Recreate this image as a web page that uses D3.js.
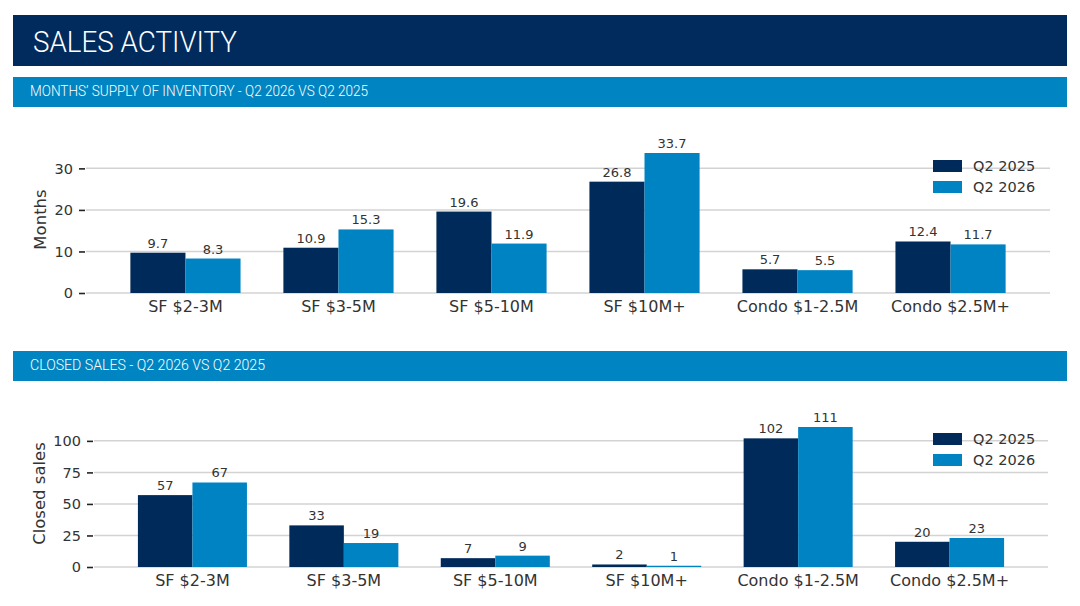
<!DOCTYPE html>
<html>
<head>
<meta charset="utf-8">
<script src="https://cdn.jsdelivr.net/npm/d3@7"></script>
<style>
  body { margin: 0; background: #fff; }
  svg { display: block; }
</style>
</head>
<body>
<script>

// data
var categories = ["SF $2-3M", "SF $3-5M", "SF $5-10M", "SF $10M+", "Condo $1-2.5M", "Condo $2.5M+"];
var seriesNames = ["Q2 2025", "Q2 2026"];

var monthsQ2_2025 = [9.7, 10.9, 19.6, 26.8, 5.7, 12.4];
var monthsQ2_2026 = [8.3, 15.3, 11.9, 33.7, 5.5, 11.7];
var monthsTicks = [0, 10, 20, 30];

var salesQ2_2025 = [57, 33, 7, 2, 102, 20];
var salesQ2_2026 = [67, 19, 9, 1, 111, 23];
var salesTicks = [0, 25, 50, 75, 100];

var navy = "#002a5a";
var blue = "#0083c3";
var colors = [navy, blue];

var svgWidth = 1080;
var svgHeight = 606;

var svg = d3.select("body")
            .append("svg")
            .attr("width", svgWidth)
            .attr("height", svgHeight);

// header bands
svg.append("rect")
   .attr("x", 13).attr("y", 15)
   .attr("width", 1054).attr("height", 51)
   .attr("fill", "#012b5d");

svg.append("text")
   .attr("x", 33).attr("y", 52)
   .attr("fill", "white")
   .style("font-family", "Roboto")
   .style("font-weight", 300)
   .style("font-size", "30px")
   .attr("textLength", 204)
   .attr("lengthAdjust", "spacingAndGlyphs")
   .text("SALES ACTIVITY");

function sectionBar(y, label, len) {
    svg.append("rect")
       .attr("x", 13).attr("y", y)
       .attr("width", 1054).attr("height", 30)
       .attr("fill", "#0085c2");
    svg.append("text")
       .attr("x", 30).attr("y", y + 19)
       .attr("fill", "white")
       .style("font-family", "Roboto")
       .style("font-weight", 300)
       .style("font-size", "15px")
       .attr("textLength", len)
       .attr("lengthAdjust", "spacingAndGlyphs")
       .text(label);
}

sectionBar(77, "MONTHS\u2019 SUPPLY OF INVENTORY - Q2 2026 VS Q2 2025", 338);
sectionBar(351, "CLOSED SALES - Q2 2026 VS Q2 2025", 235);

// grouped bar chart
function drawChart(opts) {
    var g = svg.append("g");
    var font = "DejaVu Sans";
    var textColor = "#333";

    var rows = categories.map(function(c, i) {
        return { cat: c, values: [opts.a[i], opts.b[i]] };
    });

    var yMax = d3.max(opts.a.concat(opts.b)) * 1.05;

    var xScale = d3.scaleBand()
                   .domain(categories)
                   .range([opts.left, opts.right])
                   .paddingInner(0.28)
                   .paddingOuter(0.29);

    var xSub = d3.scaleBand()
                 .domain([0, 1])
                 .range([0, xScale.bandwidth()]);

    var yScale = d3.scaleLinear()
                   .domain([0, yMax])
                   .range([opts.bottom, opts.top]);

    // gridlines + y axis
    var leftAxis = d3.axisLeft(yScale)
                     .tickValues(opts.ticks)
                     .tickSize(6)
                     .tickPadding(6);

    g.selectAll(".grid")
     .data(opts.ticks)
     .enter()
     .append("line")
     .attr("x1", opts.left)
     .attr("x2", opts.right)
     .attr("y1", d => yScale(d))
     .attr("y2", d => yScale(d))
     .attr("stroke", "#d3d3d3")
     .attr("stroke-width", 1.5);

    var yAxis = g.append("g")
                 .attr("transform", `translate(${opts.left - 1}, 0)`)
                 .call(leftAxis);
    yAxis.select(".domain").remove();
    yAxis.selectAll("line").attr("stroke", "#222").attr("stroke-width", 1.6);
    yAxis.selectAll("text")
         .attr("fill", textColor)
         .style("font-family", font)
         .style("font-size", "14.5px");

    // bars
    var groups = g.selectAll(".grp")
                  .data(rows)
                  .enter()
                  .append("g")
                  .attr("transform", d => `translate(${xScale(d.cat)}, 0)`);

    groups.selectAll("rect")
          .data(d => d.values)
          .enter()
          .append("rect")
          .attr("x", (d, i) => xSub(i))
          .attr("y", d => yScale(d))
          .attr("width", xSub.bandwidth())
          .attr("height", d => opts.bottom - yScale(d))
          .attr("fill", (d, i) => colors[i]);

    groups.selectAll("text")
          .data(d => d.values)
          .enter()
          .append("text")
          .attr("x", (d, i) => xSub(i) + xSub.bandwidth() / 2)
          .attr("y", d => yScale(d) - 5)
          .attr("text-anchor", "middle")
          .attr("fill", textColor)
          .style("font-family", font)
          .style("font-size", "13px")
          .text(d => opts.fmt(d));

    // x labels
    var bottomAxis = d3.axisBottom(xScale).tickSize(0).tickPadding(8);
    var xAxis = g.append("g")
                 .attr("transform", `translate(0, ${opts.bottom})`)
                 .call(bottomAxis);
    xAxis.select(".domain").remove();
    xAxis.selectAll("text")
         .attr("fill", textColor)
         .style("font-family", font)
         .style("font-size", "16px");

    // y label
    g.append("text")
     .attr("transform", `translate(${opts.labelX}, ${(opts.top + opts.bottom) / 2}) rotate(-90)`)
     .attr("text-anchor", "middle")
     .attr("dy", "0.35em")
     .attr("fill", textColor)
     .style("font-family", font)
     .style("font-size", "16.5px")
     .text(opts.yLabel);

    // legend
    var legend = g.selectAll(".leg")
                  .data(seriesNames)
                  .enter()
                  .append("g")
                  .attr("transform", (d, i) => `translate(933, ${opts.legendY + i * 21})`);
    legend.append("rect")
          .attr("x", 0).attr("y", -6)
          .attr("width", 29).attr("height", 12)
          .attr("fill", (d, i) => colors[i]);
    legend.append("text")
          .attr("x", 40).attr("y", 0)
          .attr("dy", "0.35em")
          .attr("fill", textColor)
          .style("font-family", font)
          .style("font-size", "14.5px")
          .text(d => d);
}

drawChart({
    a: monthsQ2_2025, b: monthsQ2_2026, ticks: monthsTicks,
    left: 86, right: 1050, top: 146, bottom: 293,
    labelX: 40, legendY: 166, yLabel: "Months",
    fmt: d3.format(".1f")
});

drawChart({
    a: salesQ2_2025, b: salesQ2_2026, ticks: salesTicks,
    left: 94, right: 1048, top: 420, bottom: 567,
    labelX: 39, legendY: 439, yLabel: "Closed sales",
    fmt: d3.format("d")
});

</script>
</body>
</html>
